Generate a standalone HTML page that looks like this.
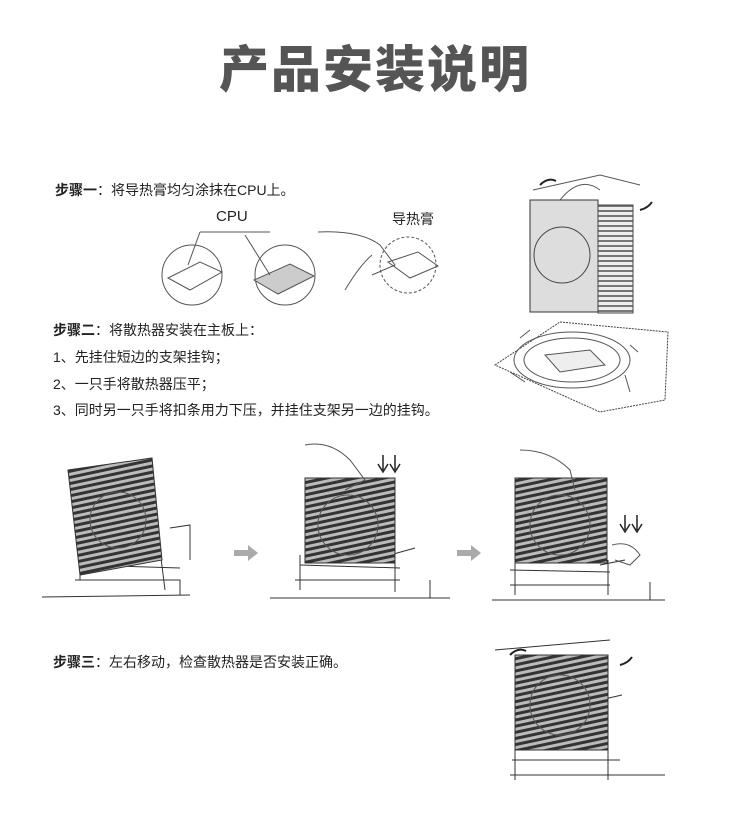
<!DOCTYPE html>
<html><head><meta charset="utf-8">
<style>
body{margin:0;background:#fff;}
.page{position:relative;width:750px;height:840px;overflow:hidden;font-family:"Liberation Sans","Noto Sans CJK SC",sans-serif;color:#222;}
.t{position:absolute;white-space:nowrap;font-size:14px;line-height:16px;}
.title{position:absolute;left:0;width:750px;top:40px;text-align:center;font-size:50px;font-weight:900;color:#555;letter-spacing:2px;line-height:60px;}
svg{position:absolute;left:0;top:0;}
</style></head><body><div class="page">
<svg width="750" height="840" viewBox="0 0 750 840">
<defs>
<pattern id="h" width="6" height="6" patternUnits="userSpaceOnUse" patternTransform="rotate(-12)">
<rect width="6" height="6" fill="#bbb"/><rect width="6" height="3" fill="#333"/></pattern>
<pattern id="fin" width="4" height="5" patternUnits="userSpaceOnUse"><rect width="4" height="5" fill="#eee"/><rect width="4" height="2" fill="#777"/></pattern>
</defs>
<g fill="none" stroke="#555" stroke-width="1">
<!-- step1 images -->
<circle cx="192" cy="275" r="30"/><circle cx="285" cy="275" r="30"/><circle cx="408" cy="265" r="28" stroke-dasharray="3 2"/>
<path d="M168 278 L200 262 L222 272 L190 290Z"/><path d="M254 280 L290 264 L314 276 L278 294Z" fill="#ccc"/>
<path d="M200 232 L270 232 M200 232 L188 265 M245 235 L270 275"/>
<path d="M318 232 Q360 230 380 245 L395 265 L372 275 M345 290 Q360 265 372 255"/>
<path d="M388 262 L418 252 L438 266 L410 278Z"/>
<!-- top right cooler -->
<path d="M533 190 L600 175 L640 185 M560 200 Q580 175 600 190"/>
<rect x="530" y="200" width="68" height="112" fill="#ddd" stroke="#333"/>
<circle cx="562" cy="255" r="28" stroke="#444"/>
<rect x="598" y="205" width="35" height="108" fill="url(#fin)" stroke="#444"/>
<path d="M540 185 q8 -8 16 -4 M640 210 q8 -2 12 -8" stroke="#222" stroke-width="2"/>
<!-- plate -->
<path d="M495 365 L560 322 L668 332 L665 400 L600 412 Z" stroke="#444" stroke-dasharray="2 1"/>
<ellipse cx="572" cy="360" rx="58" ry="28"/><ellipse cx="572" cy="360" rx="48" ry="22"/>
<path d="M545 355 L590 350 L605 365 L560 372Z" fill="#eee"/>
<path d="M510 372 L525 382 M625 375 L630 392 M520 338 L530 330 M630 345 L638 352"/>
<!-- step2 row -->
<g stroke="#333">
<path d="M42 597 L190 595 M270 598 L450 598 M492 600 L665 600"/>
<path d="M75 580 L180 580 L180 595 M80 565 L180 568 M295 580 L400 580 M300 565 L400 568 M510 585 L610 585 M510 570 L610 572"/>
<path d="M170 528 L190 525 L190 560 M390 555 L415 548 M600 565 L625 560"/>
<path d="M80 550 L80 580 M160 550 L165 590 M300 555 L300 590 M395 555 L395 592 M515 560 L515 595 M608 560 L608 595"/>
<path d="M430 580 L430 598 M650 582 L650 600"/>
</g>
<polygon points="68,470 152,458 162,560 80,575" fill="url(#h)" stroke="#333"/>
<rect x="305" y="478" width="90" height="85" fill="url(#h)" stroke="#333"/>
<rect x="515" y="478" width="92" height="85" fill="url(#h)" stroke="#333"/>
<circle cx="118" cy="520" r="28"/><circle cx="348" cy="525" r="30"/><circle cx="560" cy="525" r="30"/>
<path d="M305 445 Q330 440 350 460 L365 480 L345 490 M520 450 Q550 450 570 470 L575 490 M612 545 Q630 540 640 555 L630 565 L615 560"/>
<!-- step3 -->
<path d="M495 650 L610 640 M510 775 L665 775 M512 760 L620 760 M600 700 L622 695 M515 740 L515 780 M608 740 L608 780" stroke="#333"/>
<rect x="515" y="655" width="93" height="95" fill="url(#h)" stroke="#333"/>
<circle cx="560" cy="705" r="30"/>
<path d="M510 655 q8 -8 16 -4 M620 665 q8 -2 12 -8" stroke="#222" stroke-width="2"/>
</g>
<g fill="#222" stroke="#222" stroke-width="1.5">
<path d="M383 455 L383 470 M378 464 L383 472 L388 464 M395 455 L395 470 M390 464 L395 472 L400 464" fill="none"/>
<path d="M625 515 L625 530 M620 524 L625 532 L630 524 M637 515 L637 530 M632 524 L637 532 L642 524" fill="none"/>
</g>
<g fill="#aaa"><polygon points="234,550 248,550 248,545 258,553 248,561 248,556 234,556"/><polygon points="457,550 471,550 471,545 481,553 471,561 471,556 457,556"/></g>
</svg>
<div class="title">产品安装说明</div>
<div class="t" style="left:55px;top:182px"><b>步骤一</b>：将导热膏均匀涂抹在CPU上。</div>
<div class="t" style="left:216px;top:209px;font-size:15px">CPU</div>
<div class="t" style="left:392px;top:211px">导热膏</div>
<div class="t" style="left:53px;top:322px"><b>步骤二</b>：将散热器安装在主板上：</div>
<div class="t" style="left:53px;top:349px">1、先挂住短边的支架挂钩；</div>
<div class="t" style="left:53px;top:376px">2、一只手将散热器压平；</div>
<div class="t" style="left:53px;top:402px">3、同时另一只手将扣条用力下压，并挂住支架另一边的挂钩。</div>
<div class="t" style="left:53px;top:654px"><b>步骤三</b>：左右移动，检查散热器是否安装正确。</div>
</div></body></html>
